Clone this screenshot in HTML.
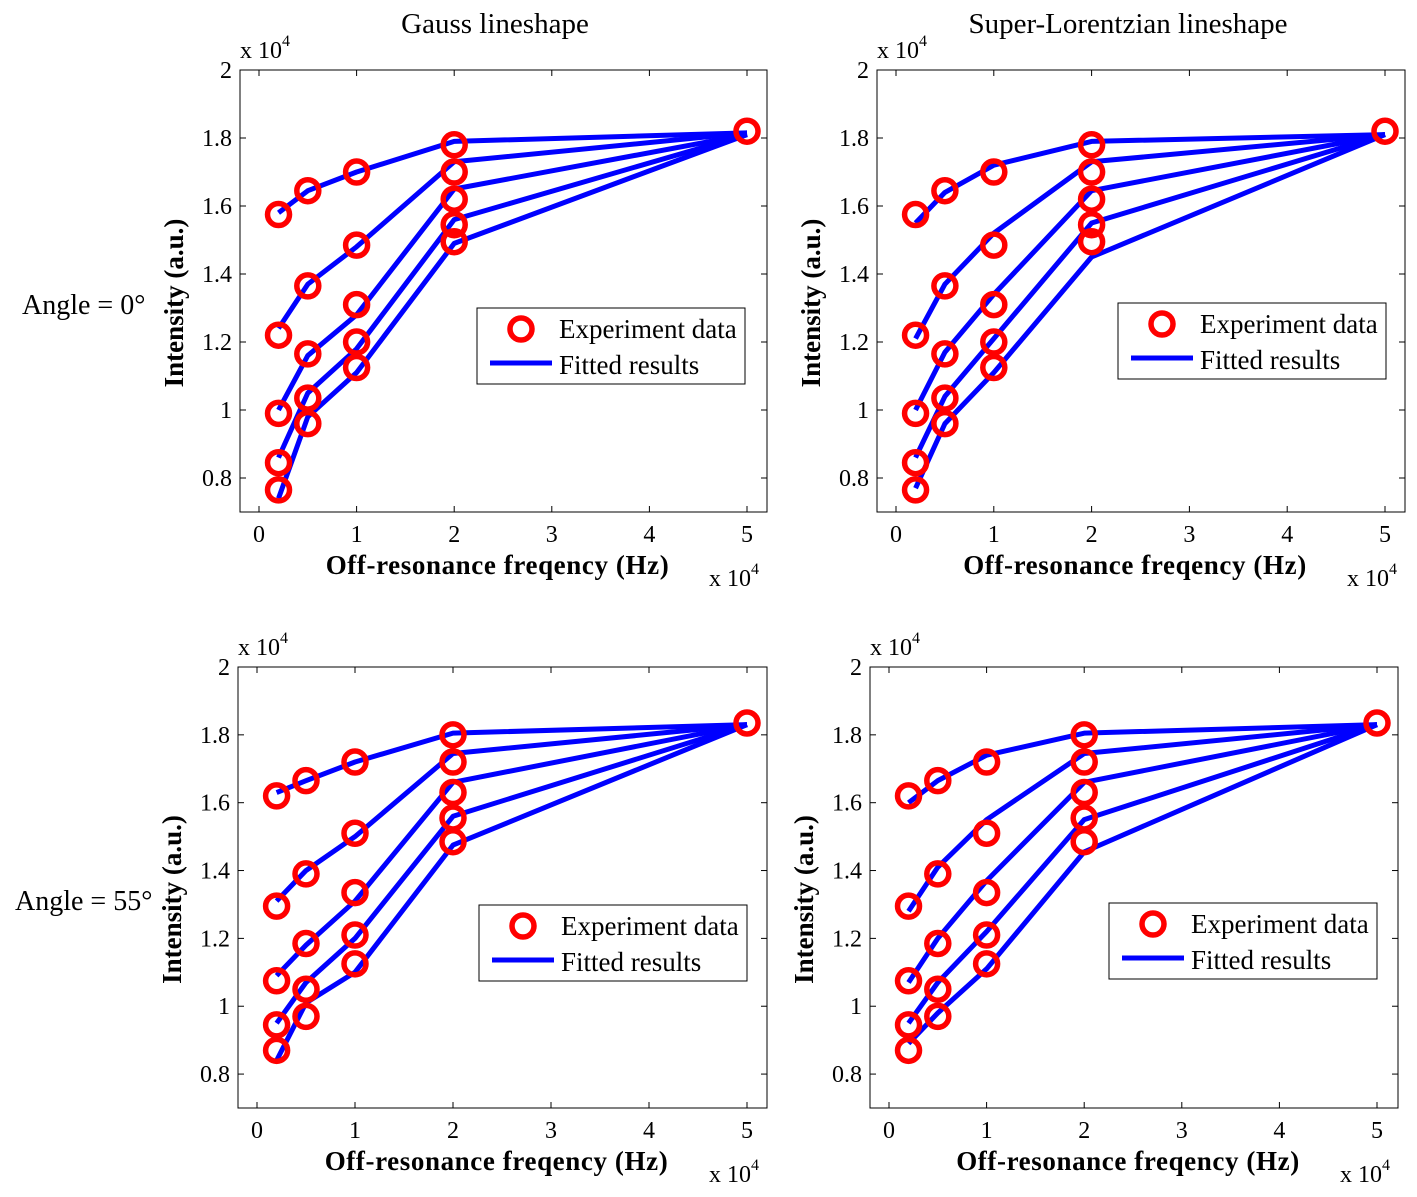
<!DOCTYPE html>
<html><head><meta charset="utf-8"><style>
body{margin:0;background:#fff}
svg{display:block;font-family:"Liberation Serif",serif}
</style></head><body>
<svg id="fig" width="1417" height="1197" viewBox="0 0 1417 1197"></svg>
<script>
const xCats=[0.2,0.5,1,2,5];
const xTicks=[0,1,2,3,4,5];
const yTicks=[0.8,1,1.2,1.4,1.6,1.8,2];
const yTickLabels=["0.8","1","1.2","1.4","1.6","1.8","2"];
// experiment circles (rows = x categories 0.2,0.5,1,2)
const expTop=[[1.575,1.22,0.99,0.845,0.765],[1.645,1.365,1.165,1.035,0.96],[1.70,1.485,1.31,1.20,1.125],[1.78,1.70,1.62,1.545,1.495]];
const expTopEnd=1.82;
const expBot=[[1.62,1.295,1.075,0.945,0.87],[1.665,1.39,1.185,1.05,0.97],[1.72,1.51,1.335,1.21,1.125],[1.80,1.72,1.63,1.555,1.485]];
const expBotEnd=1.835;
// fitted lines (values at 0.2,0.5,1,2,5)
const fitTL=[[1.58,1.645,1.70,1.79,1.815],[1.24,1.37,1.48,1.73,1.815],[1.0,1.16,1.28,1.65,1.81],[0.86,1.05,1.18,1.56,1.81],[0.74,0.98,1.11,1.49,1.81]];
const fitTR=[[1.55,1.64,1.72,1.79,1.81],[1.21,1.37,1.52,1.73,1.81],[1.0,1.17,1.34,1.645,1.81],[0.86,1.04,1.21,1.55,1.81],[0.77,0.96,1.11,1.45,1.81]];
const fitBL=[[1.63,1.665,1.72,1.805,1.83],[1.31,1.40,1.50,1.745,1.83],[1.09,1.18,1.31,1.66,1.83],[0.95,1.07,1.20,1.56,1.83],[0.84,1.01,1.10,1.475,1.83]];
const fitBR=[[1.60,1.665,1.74,1.805,1.83],[1.28,1.41,1.55,1.745,1.83],[1.07,1.20,1.37,1.66,1.83],[0.95,1.07,1.22,1.55,1.83],[0.89,0.98,1.11,1.455,1.83]];

const NS="http://www.w3.org/2000/svg";
const svg=document.getElementById('fig');
function mk(tag,attrs,parent,text){const e=document.createElementNS(NS,tag);for(const k in attrs)e.setAttribute(k,attrs[k]);if(text!==undefined)e.textContent=text;(parent||svg).appendChild(e);return e;}

const panels=[
 {name:'gauss-0',x0:259,x5:747,left:240,right:767,top:70,bottom:512,exp:expTop,end:expTopEnd,fit:fitTL,leg:[477,308]},
 {name:'superlorentz-0',x0:896,x5:1385,left:877,right:1405,top:70,bottom:512,exp:expTop,end:expTopEnd,fit:fitTR,leg:[1118,303]},
 {name:'gauss-55',x0:257,x5:747,left:238,right:767,top:667,bottom:1108,exp:expBot,end:expBotEnd,fit:fitBL,leg:[479,905]},
 {name:'superlorentz-55',x0:889,x5:1377,left:870,right:1398,top:667,bottom:1108,exp:expBot,end:expBotEnd,fit:fitBR,leg:[1109,903]}
];
panels.forEach(p=>{
 const g=mk('g',{});
 
 
 const sx=v=>p.x0+(p.x5-p.x0)*v/5;
 const sy=v=>p.top+(2-v)*(p.bottom-p.top)/1.3;
 const box=mk('rect',{x:p.left,y:p.top,width:p.right-p.left,height:p.bottom-p.top,fill:'#fff',stroke:'#000','stroke-width':1},g);
 
 
 xTicks.forEach(t=>{
  mk('line',{x1:sx(t),x2:sx(t),y1:p.bottom,y2:p.bottom-6,stroke:'#000'},g);
  mk('line',{x1:sx(t),x2:sx(t),y1:p.top,y2:p.top+6,stroke:'#000'},g);
  const tl=mk('text',{x:sx(t),y:p.bottom+30,'font-size':24,'text-anchor':'middle'},g,String(t));
  
  
 });
 yTicks.forEach((t,i)=>{
  mk('line',{x1:p.left,x2:p.left+6,y1:sy(t),y2:sy(t),stroke:'#000'},g);
  mk('line',{x1:p.right,x2:p.right-6,y1:sy(t),y2:sy(t),stroke:'#000'},g);
  const tl=mk('text',{x:p.left-8,y:sy(t)+8,'font-size':24,'text-anchor':'end'},g,yTickLabels[i]);
  
  
 });
 const ye=mk('text',{x:p.left,y:p.top-12,'font-size':24},g,'x 10');
 mk('tspan',{'font-size':16,dy:-12},ye,'4');
 
 
 const xe=mk('text',{x:p.right-58,y:p.bottom+74,'font-size':24},g,'x 10');
 mk('tspan',{'font-size':16,dy:-12},xe,'4');
 
 
 const xt=mk('text',{x:(p.left+p.right)/2-6,y:p.bottom+62,'font-size':27,'font-weight':'bold','text-anchor':'middle','letter-spacing':0.6},g,'Off-resonance freqency  (Hz)');
 
 
 const cy=(p.top+p.bottom)/2+12;
 const yt=mk('text',{x:p.left-57,y:cy,'font-size':27,'font-weight':'bold','text-anchor':'middle',transform:`rotate(-90 ${p.left-57} ${cy})`},g,'Intensity (a.u.)');
 
 
 p.fit.forEach(s=>{
  const pl=mk('polyline',{points:s.map((v,i)=>sx(xCats[i])+','+sy(v)).join(' '),fill:'none',stroke:'#0000ff','stroke-width':5,'stroke-linejoin':'round'},g);
  
  
 });
 p.exp.forEach((row,i)=>row.forEach(v=>{
  const c=mk('circle',{cx:sx(xCats[i]),cy:sy(v),r:11,fill:'none',stroke:'#ff0000','stroke-width':5.5},g);
  
  
 }));
 const c5=mk('circle',{cx:sx(5),cy:sy(p.end),r:11,fill:'none',stroke:'#ff0000','stroke-width':5.5},g);
 
 
 const [lx,ly]=p.leg;
 const lg=mk('g',{},g);
 
 
 mk('rect',{x:lx,y:ly,width:268,height:76,fill:'#fff',stroke:'#000','stroke-width':1},lg);
 mk('circle',{cx:lx+44,cy:ly+21,r:11,fill:'none',stroke:'#ff0000','stroke-width':5.5},lg);
 mk('text',{x:lx+82,y:ly+30,'font-size':27},lg,'Experiment data');
 mk('line',{x1:lx+13,x2:lx+75,y1:ly+55,y2:ly+55,stroke:'#0000ff','stroke-width':5},lg);
 mk('text',{x:lx+82,y:ly+66,'font-size':27},lg,'Fitted results');
});
const t1=mk('text',{x:495,y:33,'font-size':29,'text-anchor':'middle'},svg,'Gauss lineshape');


const t2=mk('text',{x:1128,y:33,'font-size':29,'text-anchor':'middle'},svg,'Super-Lorentzian lineshape');


const r1=mk('text',{x:22,y:314,'font-size':28},svg,'Angle = 0°');


const r2=mk('text',{x:15,y:910,'font-size':28},svg,'Angle = 55°');


</script>
</body></html>
